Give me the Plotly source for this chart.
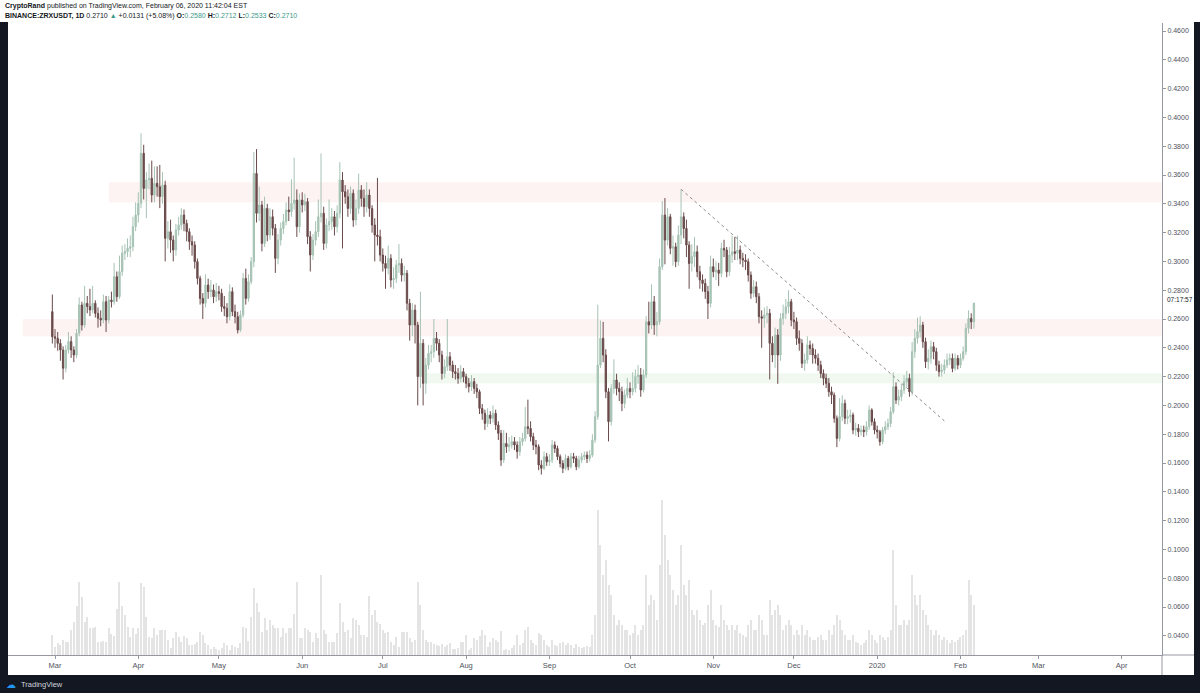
import pandas as pd
import plotly.graph_objects as go

# ---- data ----
FIRST_DAY = "2019-02-28"
FIRST_OPEN = 0.2651

close = [
    0.2477,  # Feb 28
    0.2466, 0.2431, 0.2385, 0.2258, 0.2385, 0.2443, 0.2385, 0.2350, 0.2501, 0.2697, 0.2558, 0.2709, 0.2686, 0.2663, 0.2709, 0.2639,
    0.2605, 0.2593, 0.2720, 0.2593, 0.2732, 0.2720, 0.2894, 0.2755, 0.2929, 0.3056, 0.3068, 0.3091, 0.3102, 0.3241, 0.3322,  # Mar
    0.3403, 0.3751, 0.3507, 0.3565, 0.3577, 0.3461, 0.3542, 0.3519, 0.3450, 0.3530, 0.3160, 0.3206, 0.3148, 0.3079, 0.3218,
    0.3253, 0.3322, 0.3264, 0.3206, 0.3137, 0.3114, 0.2998, 0.2882, 0.2743, 0.2709, 0.2836, 0.2790, 0.2801, 0.2755, 0.2790,  # Apr
    0.2778, 0.2686, 0.2674, 0.2616, 0.2790, 0.2651, 0.2616, 0.2523, 0.2628, 0.2882, 0.2743, 0.2859, 0.2998, 0.3611, 0.3334, 0.3392,
    0.3125, 0.3368, 0.3183, 0.3310, 0.3230, 0.3021, 0.3148, 0.3229, 0.3276, 0.3357, 0.3345, 0.3403, 0.3426, 0.3241, 0.3426,  # May
    0.3392, 0.3415, 0.3172, 0.3044, 0.3148, 0.3206, 0.3310, 0.3334, 0.3125, 0.3253, 0.3276, 0.3310, 0.3241, 0.3334, 0.3565,
    0.3484, 0.3449, 0.3368, 0.3473, 0.3287, 0.3368, 0.3496, 0.3438, 0.3380, 0.3461, 0.3368, 0.3253, 0.3183, 0.3172, 0.3044,  # Jun
    0.2986, 0.2952, 0.3021, 0.2871, 0.2882, 0.2975, 0.2986, 0.2905, 0.2917, 0.2709, 0.2558, 0.2662, 0.2558, 0.2200, 0.2431, 0.2153,
    0.2280, 0.2361, 0.2373, 0.2466, 0.2431, 0.2350, 0.2222, 0.2269, 0.2338, 0.2280, 0.2234, 0.2222, 0.2188, 0.2234, 0.2199,  # Jul
    0.2153, 0.2130, 0.2165, 0.2118, 0.2095, 0.1979, 0.1945, 0.1875, 0.1933, 0.1910, 0.1945, 0.1864, 0.1806, 0.1621, 0.1736, 0.1713,
    0.1725, 0.1748, 0.1725, 0.1679, 0.1748, 0.1771, 0.1852, 0.1840, 0.1783, 0.1725, 0.1713, 0.1586, 0.1563, 0.1644, 0.1609,  # Aug
    0.1621, 0.1725, 0.1701, 0.1644, 0.1597, 0.1563, 0.1632, 0.1574, 0.1644, 0.1632, 0.1574, 0.1621, 0.1644, 0.1655, 0.1632,
    0.1655, 0.1759, 0.1922, 0.2280, 0.2466, 0.2350, 0.2095, 0.1887, 0.2118, 0.2176, 0.2118, 0.2095, 0.2014, 0.2072, 0.2118,  # Sep
    0.2095, 0.2118, 0.2200, 0.2211, 0.2107, 0.2211, 0.2581, 0.2558, 0.2720, 0.2558, 0.2581, 0.2963, 0.3322, 0.3148, 0.3310, 0.3091,
    0.3102, 0.2998, 0.3183, 0.3310, 0.3229, 0.3114, 0.2986, 0.3033, 0.3067, 0.2928, 0.2871, 0.2847, 0.2790, 0.2709, 0.2963,  # Oct
    0.2928, 0.2940, 0.2917, 0.3091, 0.3079, 0.2928, 0.3044, 0.3067, 0.3056, 0.3079, 0.3021, 0.3009, 0.2998, 0.2905, 0.2778,
    0.2824, 0.2755, 0.2616, 0.2605, 0.2628, 0.2640, 0.2431, 0.2350, 0.2489, 0.2350, 0.2604, 0.2639, 0.2685, 0.2720, 0.2593,  # Nov
    0.2581, 0.2466, 0.2431, 0.2292, 0.2315, 0.2419, 0.2396, 0.2350, 0.2327, 0.2280, 0.2222, 0.2188, 0.2153, 0.2095, 0.2072, 0.1910,
    0.1771, 0.1922, 0.2014, 0.1910, 0.1922, 0.1933, 0.1829, 0.1841, 0.1817, 0.1829, 0.1817, 0.1852, 0.1968, 0.1887, 0.1829,  # Dec
    0.1817, 0.1748, 0.1829, 0.1852, 0.1875, 0.1956, 0.2130, 0.2037, 0.2060, 0.2107, 0.2165, 0.2188, 0.2095, 0.2373, 0.2466, 0.2512,
    0.2558, 0.2442, 0.2304, 0.2327, 0.2408, 0.2373, 0.2280, 0.2234, 0.2246, 0.2280, 0.2315, 0.2327, 0.2257, 0.2327, 0.2280,  # Jan
    0.2327, 0.2373, 0.2535, 0.2604, 0.2580, 0.2710,  # Feb 2020
]

high = [
    0.277,
    0.253, 0.251, 0.246, 0.241, 0.242, 0.251, 0.248, 0.241, 0.253, 0.275, 0.272, 0.283, 0.276, 0.281, 0.283, 0.273,
    0.268, 0.266, 0.277, 0.276, 0.276, 0.279, 0.299, 0.293, 0.304, 0.311, 0.312, 0.316, 0.318, 0.331, 0.341,
    0.348, 0.389, 0.381, 0.362, 0.368, 0.370, 0.366, 0.366, 0.367, 0.362, 0.356, 0.328, 0.329, 0.318, 0.326,
    0.331, 0.337, 0.336, 0.329, 0.323, 0.318, 0.314, 0.302, 0.290, 0.278, 0.291, 0.288, 0.287, 0.284, 0.285,
    0.283, 0.281, 0.276, 0.271, 0.284, 0.282, 0.270, 0.265, 0.266, 0.292, 0.295, 0.291, 0.303, 0.376, 0.378, 0.352,
    0.342, 0.345, 0.340, 0.337, 0.336, 0.326, 0.319, 0.327, 0.333, 0.341, 0.345, 0.357, 0.372, 0.350, 0.347,
    0.348, 0.347, 0.344, 0.321, 0.319, 0.328, 0.343, 0.375, 0.338, 0.330, 0.343, 0.337, 0.335, 0.339, 0.369,
    0.362, 0.353, 0.350, 0.352, 0.350, 0.343, 0.361, 0.353, 0.350, 0.355, 0.350, 0.339, 0.330, 0.358, 0.322,
    0.309, 0.304, 0.311, 0.305, 0.296, 0.301, 0.312, 0.302, 0.297, 0.294, 0.274, 0.271, 0.270, 0.258, 0.279, 0.246,
    0.233, 0.242, 0.242, 0.260, 0.251, 0.246, 0.238, 0.232, 0.260, 0.237, 0.231, 0.228, 0.226, 0.228, 0.226,
    0.222, 0.219, 0.221, 0.219, 0.215, 0.211, 0.201, 0.197, 0.198, 0.196, 0.200, 0.197, 0.189, 0.183, 0.183, 0.181,
    0.178, 0.179, 0.178, 0.175, 0.178, 0.181, 0.199, 0.204, 0.189, 0.181, 0.176, 0.173, 0.162, 0.168, 0.167,
    0.166, 0.176, 0.175, 0.172, 0.166, 0.162, 0.166, 0.165, 0.167, 0.167, 0.165, 0.165, 0.167, 0.168, 0.168,
    0.169, 0.180, 0.196, 0.270, 0.259, 0.258, 0.239, 0.212, 0.215, 0.232, 0.222, 0.216, 0.213, 0.211, 0.219,
    0.216, 0.223, 0.225, 0.228, 0.226, 0.225, 0.262, 0.272, 0.284, 0.276, 0.265, 0.302, 0.342, 0.344, 0.337, 0.333,
    0.318, 0.313, 0.325, 0.350, 0.334, 0.329, 0.314, 0.312, 0.317, 0.311, 0.297, 0.291, 0.288, 0.283, 0.304,
    0.302, 0.300, 0.299, 0.313, 0.315, 0.310, 0.310, 0.318, 0.317, 0.318, 0.311, 0.306, 0.305, 0.302, 0.293,
    0.287, 0.286, 0.278, 0.266, 0.268, 0.269, 0.267, 0.248, 0.254, 0.253, 0.264, 0.270, 0.274, 0.280, 0.274,
    0.265, 0.261, 0.252, 0.246, 0.236, 0.248, 0.245, 0.243, 0.239, 0.236, 0.231, 0.225, 0.222, 0.219, 0.213, 0.209,
    0.193, 0.205, 0.207, 0.204, 0.197, 0.197, 0.195, 0.188, 0.187, 0.186, 0.186, 0.189, 0.200, 0.198, 0.191,
    0.186, 0.183, 0.185, 0.189, 0.191, 0.199, 0.223, 0.216, 0.211, 0.215, 0.221, 0.224, 0.222, 0.244, 0.253, 0.261,
    0.262, 0.258, 0.247, 0.239, 0.245, 0.244, 0.240, 0.231, 0.229, 0.232, 0.236, 0.236, 0.236, 0.236, 0.235,
    0.236, 0.241, 0.257, 0.266, 0.264, 0.2712,
]

low = [
    0.243,
    0.240, 0.238, 0.231, 0.218, 0.223, 0.236, 0.233, 0.230, 0.233, 0.248, 0.252, 0.254, 0.264, 0.262, 0.264, 0.261,
    0.254, 0.255, 0.257, 0.251, 0.257, 0.268, 0.270, 0.272, 0.274, 0.290, 0.301, 0.303, 0.303, 0.307, 0.321,
    0.327, 0.337, 0.343, 0.330, 0.350, 0.341, 0.341, 0.345, 0.337, 0.340, 0.300, 0.309, 0.306, 0.300, 0.304,
    0.318, 0.322, 0.321, 0.314, 0.308, 0.304, 0.295, 0.284, 0.270, 0.260, 0.268, 0.274, 0.275, 0.271, 0.272,
    0.273, 0.265, 0.262, 0.257, 0.259, 0.262, 0.257, 0.250, 0.251, 0.261, 0.270, 0.272, 0.284, 0.296, 0.327, 0.328,
    0.307, 0.310, 0.314, 0.315, 0.318, 0.292, 0.298, 0.311, 0.319, 0.325, 0.328, 0.331, 0.336, 0.317, 0.320,
    0.334, 0.335, 0.312, 0.293, 0.301, 0.311, 0.317, 0.327, 0.308, 0.309, 0.321, 0.322, 0.318, 0.320, 0.330,
    0.309, 0.340, 0.331, 0.333, 0.324, 0.325, 0.333, 0.338, 0.331, 0.334, 0.331, 0.320, 0.300, 0.311, 0.300,
    0.293, 0.281, 0.291, 0.282, 0.281, 0.285, 0.292, 0.286, 0.286, 0.266, 0.245, 0.248, 0.243, 0.200, 0.212, 0.200,
    0.208, 0.225, 0.230, 0.233, 0.238, 0.230, 0.218, 0.219, 0.224, 0.224, 0.219, 0.218, 0.215, 0.216, 0.216,
    0.212, 0.209, 0.210, 0.208, 0.205, 0.194, 0.190, 0.183, 0.185, 0.187, 0.188, 0.183, 0.176, 0.158, 0.160, 0.167,
    0.168, 0.170, 0.169, 0.163, 0.165, 0.172, 0.175, 0.180, 0.175, 0.169, 0.166, 0.155, 0.152, 0.155, 0.158,
    0.158, 0.160, 0.167, 0.162, 0.157, 0.153, 0.155, 0.155, 0.156, 0.160, 0.155, 0.156, 0.160, 0.162, 0.160,
    0.161, 0.164, 0.174, 0.190, 0.226, 0.230, 0.205, 0.175, 0.186, 0.208, 0.207, 0.203, 0.196, 0.198, 0.205,
    0.205, 0.207, 0.209, 0.215, 0.206, 0.209, 0.219, 0.250, 0.253, 0.249, 0.248, 0.256, 0.294, 0.298, 0.311, 0.305,
    0.297, 0.296, 0.297, 0.312, 0.316, 0.303, 0.281, 0.293, 0.296, 0.289, 0.281, 0.279, 0.274, 0.260, 0.268,
    0.289, 0.287, 0.283, 0.289, 0.303, 0.289, 0.290, 0.299, 0.301, 0.301, 0.298, 0.296, 0.294, 0.286, 0.274,
    0.275, 0.271, 0.257, 0.240, 0.254, 0.257, 0.218, 0.230, 0.226, 0.215, 0.231, 0.256, 0.260, 0.264, 0.255,
    0.253, 0.242, 0.238, 0.226, 0.224, 0.229, 0.235, 0.229, 0.229, 0.224, 0.219, 0.214, 0.212, 0.206, 0.201, 0.188,
    0.171, 0.175, 0.189, 0.187, 0.187, 0.188, 0.180, 0.179, 0.178, 0.179, 0.178, 0.179, 0.183, 0.186, 0.180,
    0.177, 0.172, 0.173, 0.180, 0.183, 0.185, 0.194, 0.201, 0.200, 0.203, 0.208, 0.213, 0.206, 0.207, 0.233, 0.243,
    0.247, 0.240, 0.226, 0.225, 0.229, 0.232, 0.224, 0.220, 0.220, 0.222, 0.226, 0.228, 0.223, 0.224, 0.225,
    0.226, 0.231, 0.235, 0.250, 0.253, 0.2533,
]

# volume, millions of ZRX
volume = [
    2.0,
    0.8, 1.2, 1.0, 1.5, 1.3, 1.3, 2.5, 3.3, 4.9, 7.3, 5.8, 3.3, 3.8, 2.7, 2.7, 2.8,
    1.3, 1.3, 1.4, 1.3, 2.7, 2.1, 1.9, 4.6, 7.3, 4.9, 4.0, 2.8, 1.8, 2.7, 2.1,
    2.7, 7.2, 6.8, 3.8, 1.8, 1.7, 2.7, 2.0, 2.5, 2.5, 2.5, 1.5, 0.7, 1.7, 2.3,
    1.8, 1.3, 1.9, 1.7, 1.0, 1.0, 1.1, 1.3, 2.3, 2.0, 1.2, 1.0, 0.6, 0.8, 0.6,
    0.5, 0.7, 1.2, 1.0, 0.5, 1.0, 0.8, 0.7, 1.2, 2.8, 2.7, 1.4, 3.8, 6.7, 5.2, 4.3,
    2.3, 3.7, 2.5, 3.5, 3.0, 2.7, 2.7, 1.8, 2.7, 2.2, 2.7, 2.7, 4.1, 7.3, 1.7,
    1.7, 2.7, 2.5, 2.3, 1.3, 2.2, 1.7, 8.0, 2.5, 2.1, 1.3, 1.3, 1.3, 2.2, 5.2,
    3.3, 2.3, 2.5, 1.7, 3.7, 3.5, 3.0, 2.0, 2.0, 1.8, 5.9, 4.0, 4.5, 3.3, 3.1,
    2.5, 2.2, 2.3, 1.3, 1.0, 1.8, 0.8, 2.3, 2.3, 2.3, 1.7, 1.3, 1.5, 7.3, 5.0, 2.5,
    1.5, 1.3, 1.3, 1.1, 1.0, 0.9, 1.1, 0.8, 1.0, 1.2, 0.6, 0.6, 0.7, 1.3, 1.3,
    2.0, 0.5, 0.7, 1.7, 1.5, 1.9, 2.5, 2.0, 0.8, 1.3, 1.7, 1.5, 1.3, 2.4, 0.5, 0.6,
    0.5, 0.7, 1.0, 2.0, 1.0, 1.2, 2.5, 2.8, 1.5, 1.2, 1.0, 2.2, 2.0, 1.5, 1.0,
    0.8, 1.5, 1.0, 0.9, 1.2, 1.3, 1.0, 1.2, 1.0, 0.7, 1.1, 0.8, 0.7, 0.8, 0.9,
    0.8, 2.0, 4.0, 14.5, 11.0, 8.0, 9.5, 7.0, 6.0, 4.0, 3.0, 3.5, 3.0, 2.5, 2.5,
    2.0, 2.2, 3.0, 2.0, 2.5, 3.0, 8.0, 5.0, 6.0, 5.5, 3.5, 9.0, 15.5, 12.0, 9.5, 8.0,
    6.5, 5.0, 6.0, 11.0, 7.0, 6.0, 7.5, 4.5, 4.0, 4.5, 3.5, 3.0, 3.2, 5.0, 6.5,
    3.5, 3.0, 2.8, 5.0, 3.5, 3.0, 2.5, 3.0, 2.5, 3.0, 2.2, 2.0, 1.8, 3.0, 3.5,
    2.5, 2.5, 4.0, 3.5, 2.0, 2.0, 5.5, 4.0, 4.5, 5.0, 4.0, 2.5, 3.0, 3.5, 3.0,
    2.0, 2.5, 2.0, 3.0, 2.0, 2.5, 1.8, 1.5, 1.5, 1.8, 2.0, 1.5, 1.5, 2.5, 2.0, 3.0,
    4.0, 3.5, 2.5, 2.0, 1.5, 1.5, 2.0, 1.3, 1.2, 1.0, 1.2, 1.5, 2.5, 2.0, 1.5,
    1.2, 2.0, 1.8, 1.5, 1.8, 2.5, 10.5, 5.0, 3.0, 3.0, 3.5, 3.0, 3.5, 8.0, 6.0, 5.0,
    6.0, 4.5, 4.0, 3.0, 2.5, 2.0, 2.5, 2.0, 1.5, 1.8, 1.5, 1.2, 1.5, 1.3, 1.5,
    1.8, 2.0, 2.5, 7.5, 6.0, 5.0,
]

# support / resistance zones drawn on the chart
zone_start = ["2019-03-21", "2019-02-17", "2019-07-17"]
zone_low = [0.341, 0.248, 0.2153]
zone_high = [0.355, 0.260, 0.2223]

# trend line
trend_dates = ["2019-10-20", "2020-01-26"]
trend_prices = [0.3501, 0.1892]

month_ticks = ["2019-03-01", "2019-04-01", "2019-05-01", "2019-06-01", "2019-07-01", "2019-08-01", "2019-09-01",
               "2019-10-01", "2019-11-01", "2019-12-01", "2020-01-01", "2020-02-01", "2020-03-01", "2020-04-01"]
month_labels = ["Mar", "Apr", "May", "Jun", "Jul", "Aug", "Sep", "Oct", "Nov", "Dec", "2020", "Feb", "Mar", "Apr"]
price_ticks = [0.04, 0.06, 0.08, 0.10, 0.12, 0.14, 0.16, 0.18, 0.20, 0.22, 0.24, 0.26, 0.28, 0.30,
               0.32, 0.34, 0.36, 0.38, 0.40, 0.42, 0.44, 0.46]

dates = pd.date_range(FIRST_DAY, periods=len(close), freq="D")
opens = [FIRST_OPEN] + close[:-1]

UP = "#a6c3b4"
DOWN = "#6a4a4a"
DARK = "#131722"
AXIS = "#9598a1"
TEAL = "#3c9a89"
FONT = "Liberation Sans, Arial, sans-serif"

fig = go.Figure()

# volume underneath the candles
fig.add_trace(go.Bar(
    x=dates, y=volume, yaxis="y",
    marker=dict(color="#e4e4e4", line=dict(width=0)),
    width=0.38 * 86400000,
    hoverinfo="skip",
))

fig.add_trace(go.Candlestick(
    x=dates, open=opens, high=high, low=low, close=close,
    yaxis="y2",
    increasing=dict(line=dict(color=UP, width=1), fillcolor=UP),
    decreasing=dict(line=dict(color=DOWN, width=1), fillcolor=DOWN),
    whiskerwidth=0,
))

fig.add_trace(go.Scatter(
    x=trend_dates, y=trend_prices, yaxis="y2", mode="lines",
    line=dict(color="#8c8c8c", width=1, dash="dot"),
    hoverinfo="skip",
))

shapes = []
zone_fill = ["rgba(244,200,195,0.22)", "rgba(244,200,195,0.22)", "rgba(200,230,201,0.28)"]
for x0, y0, y1, fc in zip(zone_start, zone_low, zone_high, zone_fill):
    shapes.append(dict(type="rect", xref="x", yref="y2", x0=x0, x1="2020-04-20", y0=y0, y1=y1,
                       fillcolor=fc, line=dict(width=0), layer="below"))


def px_x(p):
    return (p - 8) / 1154


def px_y(p):
    return (655 - p) / 632


# dark frame around the chart panel
for x0, x1, y0, y1 in [(0, 8, 22, 693), (1194, 1200, 22, 693), (0, 1200, 675, 693)]:
    shapes.append(dict(type="rect", xref="paper", yref="paper", x0=px_x(x0), x1=px_x(x1),
                       y0=px_y(y1), y1=px_y(y0), fillcolor=DARK, line=dict(width=0), layer="above"))
# axis separators
shapes.append(dict(type="line", xref="paper", yref="paper", x0=1, x1=1, y0=px_y(675), y1=0,
                   line=dict(color=AXIS, width=1)))
shapes.append(dict(type="line", xref="paper", yref="paper", x0=1, x1=px_x(1194), y0=0, y1=0,
                   line=dict(color=AXIS, width=1)))

annotations = [
    dict(xref="paper", yref="paper", x=px_x(3), y=px_y(6), xanchor="left", yanchor="middle", showarrow=False,
         text="<b>CryptoRand</b> published on TradingView.com, February 06, 2020 11:42:04 EST",
         font=dict(family=FONT, size=7, color="#131722")),
    dict(xref="paper", yref="paper", x=px_x(3), y=px_y(16), xanchor="left", yanchor="middle", showarrow=False,
         text=("<b>BINANCE:ZRXUSDT, 1D</b> 0.2710 <span style='color:%s'>▲</span> +0.0131 (+5.08%%) "
               "<b>O:</b><span style='color:%s'>0.2580</span> <b>H:</b><span style='color:%s'>0.2712</span> "
               "<b>L:</b><span style='color:%s'>0.2533</span> <b>C:</b><span style='color:%s'>0.2710</span>")
              % (TEAL, TEAL, TEAL, TEAL, TEAL),
         font=dict(family=FONT, size=7, color="#131722")),
    dict(xref="paper", yref="paper", x=px_x(1165), y=px_y(299), xanchor="left", yanchor="middle", showarrow=False,
         text="07:17:57", font=dict(family=FONT, size=6.5, color="#131722")),
    dict(xref="paper", yref="paper", x=px_x(19), y=px_y(684), xanchor="left", yanchor="middle", showarrow=False,
         text="TradingView", font=dict(family=FONT, size=7.5, color="#d1d4dc")),
    dict(xref="paper", yref="paper", x=px_x(4), y=px_y(684), xanchor="left", yanchor="middle", showarrow=False,
         text="☁", font=dict(family="DejaVu Sans", size=10, color="#2196f3")),
]

fig.update_layout(
    width=1200, height=693,
    margin=dict(l=8, r=38, t=23, b=38),
    paper_bgcolor="white", plot_bgcolor="white",
    showlegend=False, bargap=0,
    font=dict(family=FONT),
    shapes=shapes, annotations=annotations,
    xaxis=dict(
        type="date", range=["2019-02-11 12:00", "2020-04-16"],
        rangeslider=dict(visible=False),
        tickvals=month_ticks, ticktext=month_labels,
        showgrid=False, zeroline=False, showline=True, linecolor=AXIS,
        ticks="outside", ticklen=3, tickcolor=AXIS,
        tickfont=dict(size=7.5, color="#50535e"),
    ),
    yaxis=dict(range=[0, 63.2], visible=False, showgrid=False),
    yaxis2=dict(
        overlaying="y", side="right", anchor="x",
        range=[0.02667, 0.46556],
        tickvals=price_ticks, ticktext=[f"{v:.4f}" for v in price_ticks],
        showgrid=False, zeroline=False, showline=True, linecolor=AXIS,
        ticks="outside", ticklen=3, tickcolor=AXIS,
        tickfont=dict(size=7, color="#50535e"),
    ),
)

# page body has an 8px default margin; drop it so the figure sits at the window origin
fig.write_html("out.html", config={"displayModeBar": False},
               post_script="document.body.style.margin='0';")
